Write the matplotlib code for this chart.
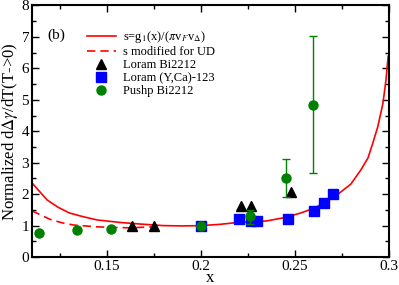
import numpy as np
import matplotlib
matplotlib.use("Agg")
import matplotlib.pyplot as plt
from matplotlib.ticker import MultipleLocator

plt.rcParams['font.family'] = ['Liberation Serif', 'DejaVu Serif']
plt.rcParams['mathtext.fontset'] = 'stix'

# theory curves
curve_x = [0.11, 0.118, 0.124, 0.130, 0.1375, 0.1447, 0.157, 0.1676, 0.18, 0.19, 0.2,
           0.21, 0.2194, 0.235, 0.244, 0.253, 0.26, 0.2707, 0.2797, 0.285, 0.2888,
           0.2914, 0.294, 0.2968, 0.2984, 0.2995, 0.3]
curve_y = [2.36, 1.82, 1.58, 1.40, 1.28, 1.18, 1.1, 1.05, 1.0, 0.99, 1.0,
           1.04, 1.1, 1.15, 1.25, 1.40, 1.55, 1.9, 2.32, 2.77, 3.15,
           3.63, 4.14, 4.9, 5.64, 6.37, 6.45]
ud_x = [0.11, 0.1196, 0.126, 0.132, 0.1447, 0.155, 0.162, 0.17, 0.178]
ud_y = [1.47, 1.2, 1.09, 1.02, 0.96, 0.94, 0.93, 0.95, 0.97]

# Loram Bi2212
tri_x = [0.1634, 0.175, 0.221, 0.2263, 0.248]
tri_y = [1.0, 1.0, 1.63, 1.63, 2.07]

# Loram (Y,Ca)-123
sq_x = [0.2, 0.22, 0.2268, 0.23, 0.246, 0.26, 0.2653, 0.27]
sq_y = [1.0, 1.2, 1.15, 1.15, 1.2, 1.47, 1.71, 2.0]

# Pushp Bi2212
circ_x = [0.1137, 0.134, 0.152, 0.2, 0.2258, 0.245, 0.2594]
circ_y = [0.76, 0.86, 0.88, 1.0, 1.3, 2.52, 4.84]
circ_lo = [0, 0, 0, 0, 0.25, 0.6, 2.17]
circ_hi = [0, 0, 0, 0, 0.2, 0.6, 2.2]

fig, ax = plt.subplots(figsize=(3.99, 2.85), dpi=100)
fig.subplots_adjust(left=0.080, right=0.975, bottom=0.098, top=0.981)

ax.plot(curve_x, curve_y, color='red', lw=1.2,
        label=r's=g$_1$(x)/($\pi$v$_F$v$_\Delta$)')
ax.plot(ud_x, ud_y, color='red', lw=1.2, ls=(0, (5, 3)), label='s modified for UD')
ax.plot(tri_x, tri_y, '^', color='black', ms=7, ls='none', label='Loram Bi2212')
ax.plot(sq_x, sq_y, 's', color='blue', ms=6.5, ls='none', label='Loram (Y,Ca)-123')
ax.errorbar(circ_x, circ_y, yerr=[circ_lo, circ_hi], fmt='none', ecolor='green',
            elinewidth=1, capsize=3)
ax.plot(circ_x, circ_y, 'o', color='green', ms=6.5, ls='none', label='Pushp Bi2212')

ax.set_xlim(0.11, 0.3)
ax.set_ylim(0, 8)
ax.xaxis.set_major_locator(MultipleLocator(0.05))
ax.xaxis.set_minor_locator(MultipleLocator(0.025))
ax.yaxis.set_major_locator(MultipleLocator(1))
ax.yaxis.set_minor_locator(MultipleLocator(0.5))
ax.set_xticks([0.15, 0.2, 0.25, 0.3])
ax.set_xticklabels(['0.15', '0.2', '0.25', '0.3'])
ax.tick_params(which='both', direction='in', top=True, right=True, labelsize=11, pad=2)
ax.tick_params(which='major', length=5, width=1)
ax.tick_params(which='minor', length=3, width=1)
for s in ax.spines.values():
    s.set_linewidth(1.5)

ax.set_xlabel('x', fontsize=12, labelpad=-2)
ax.set_ylabel(r'Normalized d$\Delta\gamma$/dT(T->0)', fontsize=12, labelpad=1)
ax.text(0.118, 6.95, '(b)', fontsize=11)

ax.legend(loc='upper left', bbox_to_anchor=(0.14, 0.925), frameon=False, fontsize=9,
          handlelength=2.3, labelspacing=0.08, handletextpad=0.6, borderaxespad=0)

fig.savefig('out.png', dpi=100)
